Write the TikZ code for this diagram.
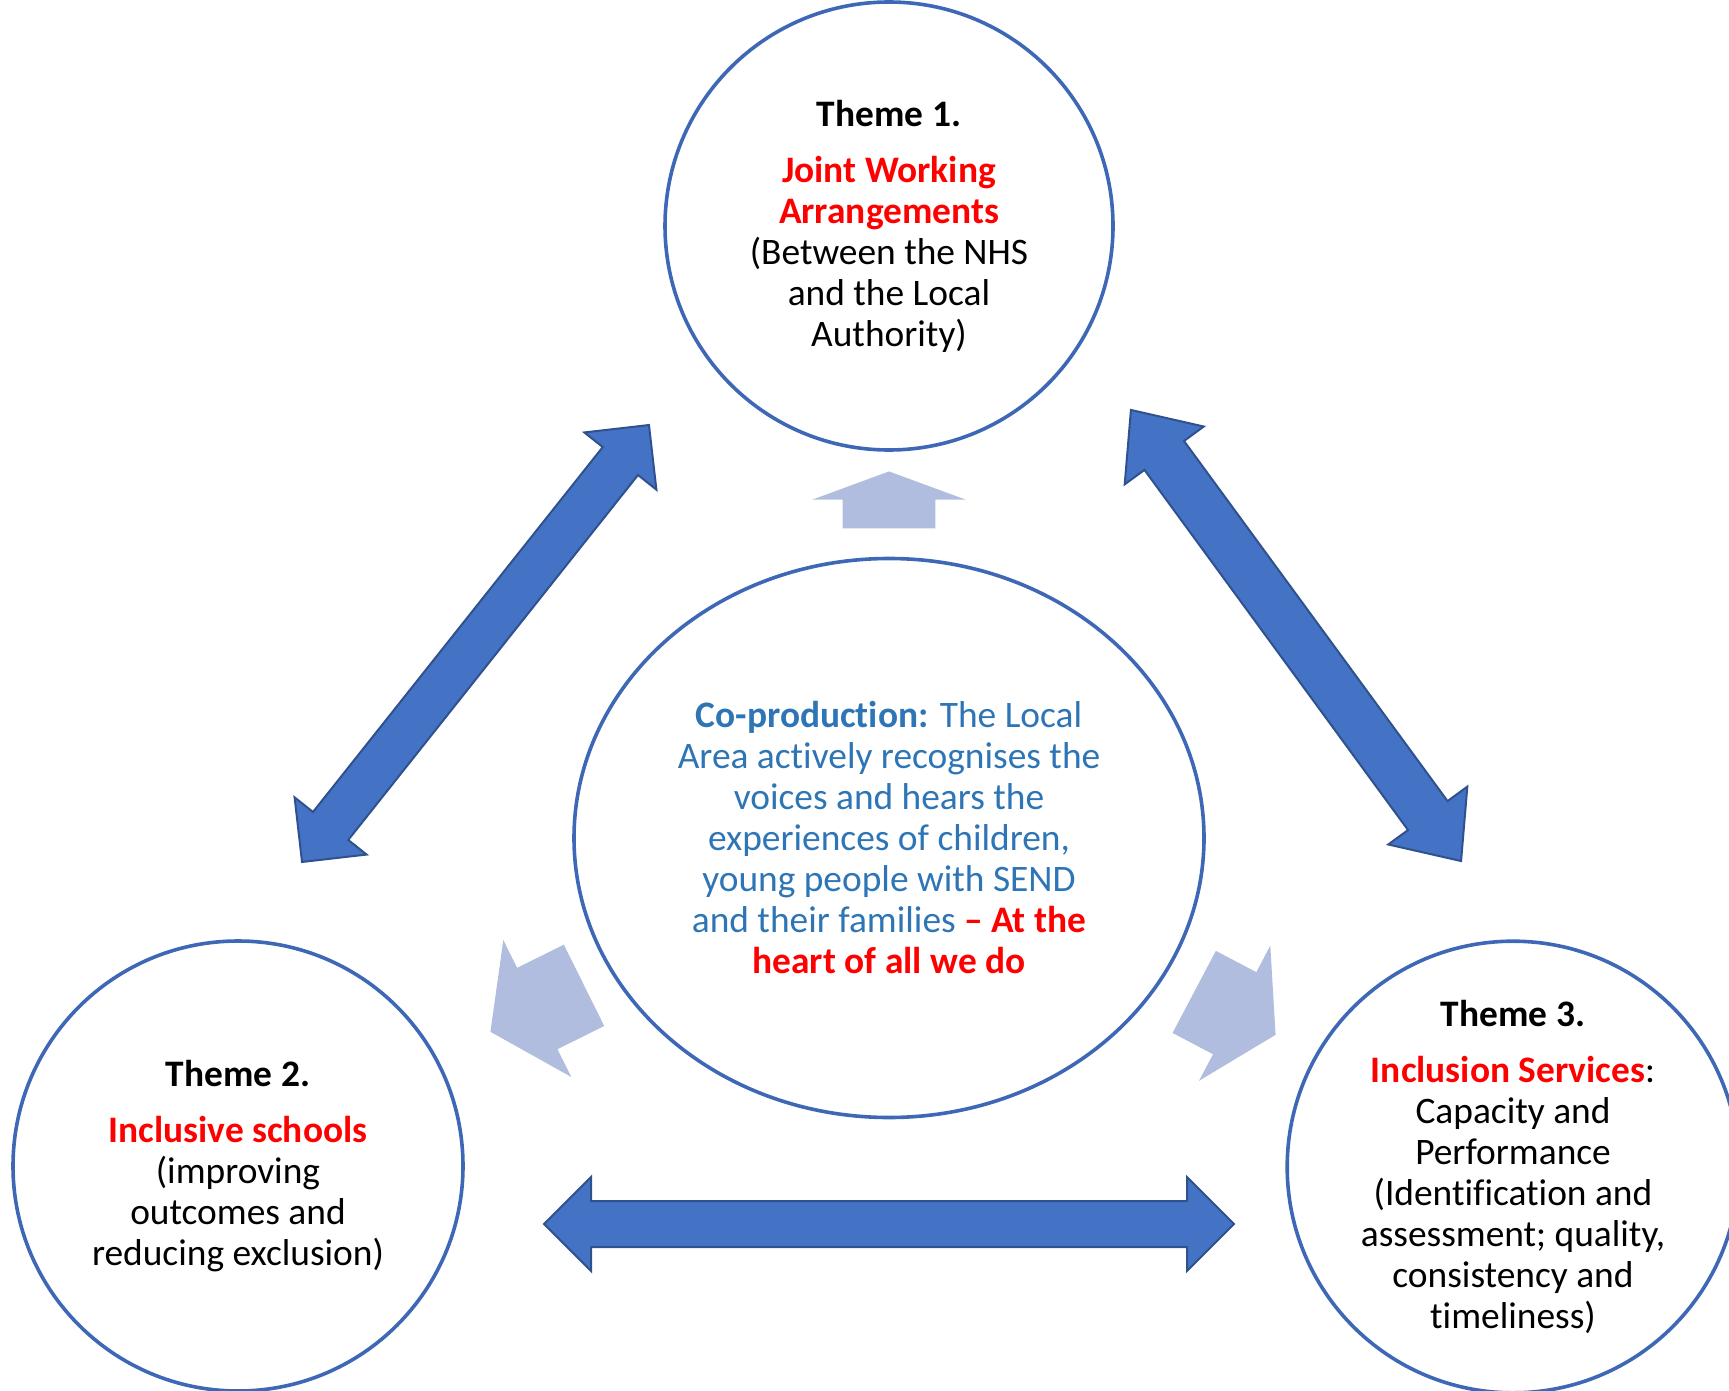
\documentclass[tikz,border=0pt]{standalone}
\usepackage{fontspec}
\setmainfont{Carlito}[Ligatures=NoCommon]
\usepackage{tikz}
\usetikzlibrary{shapes.geometric}
\usetikzlibrary{shapes.arrows}
\usetikzlibrary{positioning}

\definecolor{ringblue}{RGB}{62,104,182}
\definecolor{arrowblue}{RGB}{68,114,196}
\definecolor{arrowedge}{RGB}{47,82,143}
\definecolor{paleblue}{RGB}{176,189,222}
\definecolor{textblue}{RGB}{46,117,182}
\definecolor{themered}{RGB}{255,0,0}

\tikzset{
	linkarrow/.style={double arrow, draw=arrowedge, fill=arrowblue, line width=1pt, inner xsep=0pt},
	pusharrow/.style={single arrow, fill=paleblue, inner xsep=0pt, anchor=tip},
}

\begin{document}
\begin{tikzpicture}[x=0.5pt,y=-0.5pt]
	\useasboundingbox (0,0) rectangle (1729,1391);

	% the three themes
	\begin{scope}[every node/.style={circle, draw=ringblue, line width=1.8pt, inner sep=0pt,
	              align=center, font=\fontsize{18.7}{20.5}\selectfont}]
		\node[minimum size=224pt] (1) at (889,226) {\textbf{Theme 1.}\\[7.5pt]
			\textcolor{themered}{\textbf{Joint Working}}\\
			\textcolor{themered}{\textbf{Arrangements}}\\
			(Between the NHS\\and the Local\\Authority)};
		\node[minimum size=225pt] (2) at (238,1166) {\textbf{Theme 2.}\\[7.5pt]
			\textcolor{themered}{\textbf{Inclusive schools}}\\
			(improving\\outcomes and\\reducing exclusion)};
		\node[minimum size=225pt] (3) at (1513,1167) {\textbf{Theme 3.}\\[7.5pt]
			\textcolor{themered}{\textbf{Inclusion Services}}:\\
			Capacity and\\Performance\\(Identification and\\assessment; quality,\\consistency and\\timeliness)};
	\end{scope}

	% centre
	\node[ellipse, draw=ringblue, line width=1.8pt, minimum width=315pt, minimum height=279.5pt,
	      inner sep=0pt, align=center, text=textblue, font=\fontsize{18.7}{20.5}\selectfont] (0) at (889,838)
		{\textbf{Co-production:} The Local\\Area actively recognises the\\voices and hears the\\
		 experiences of children,\\young people with SEND\\
		 and their families \textcolor{themered}{\textbf{– At the}}\\
		 \textcolor{themered}{\textbf{heart of all we do}}};

	% links between themes
	\node[linkarrow, rotate=51.55, minimum height=279pt, inner ysep=10.75pt,
	      double arrow head extend=11.75pt, double arrow tip angle=90] (a12) at (475.5,643.5) {};
	\node[linkarrow, rotate=-53.8, minimum height=279.5pt, inner ysep=11.75pt,
	      double arrow head extend=12.25pt, double arrow tip angle=82] (a13) at (1296,635.5) {};
	\node[linkarrow, minimum height=345pt, inner ysep=11pt,
	      double arrow head extend=12pt, double arrow tip angle=90] (a23) at (889,1224) {};

	% from the centre outwards
	\node[pusharrow, rotate=90, minimum height=28.5pt, inner ysep=23pt,
	      single arrow head extend=15pt, single arrow tip angle=139.6] (u1) at (889,471) {};
	\node[pusharrow, rotate=206.4, minimum height=52.25pt, inner ysep=22.5pt,
	      single arrow head extend=15.5pt, single arrow tip angle=111.2] (u2) at (490,1032) {};
	\node[pusharrow, rotate=-27.8, minimum height=46pt, inner ysep=23pt,
	      single arrow head extend=15pt, single arrow tip angle=117.6] (u3) at (1276,1035) {};
\end{tikzpicture}
\end{document}
